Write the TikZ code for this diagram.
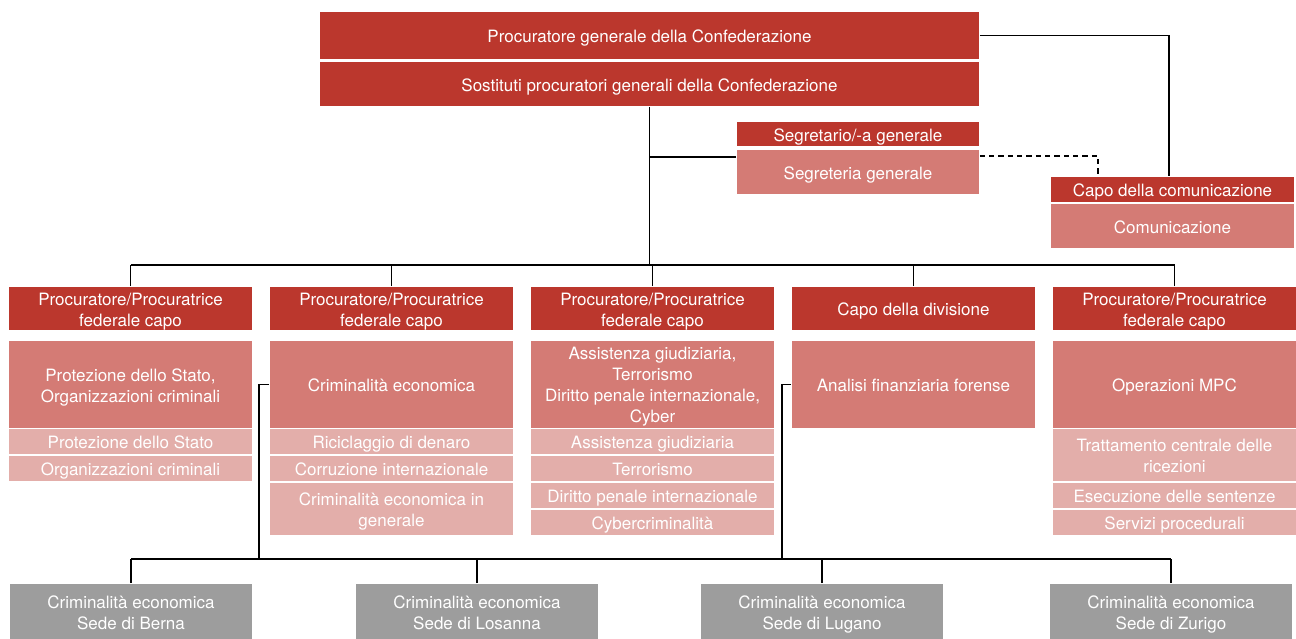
\documentclass[tikz,border=0pt]{standalone}
\usepackage{fontspec}
\setmainfont{TeX Gyre Heros}
\definecolor{rosso}{HTML}{BB372D}
\definecolor{rosa}{HTML}{D47B75}
\definecolor{rosachiaro}{HTML}{E3AEAA}
\definecolor{grigio}{HTML}{9D9D9D}
\tikzset{
  box/.style={inner sep=0pt,align=center,text=white,font=\fontsize{12.75}{15.75}\selectfont,minimum width=182.25pt,
    text height=13.3pt,text depth=2.7pt},
  due/.style={text height=29.3pt},
  capo/.style={box,fill=rosso,minimum height=32.25pt,due},
  main/.style={box,fill=rosa,minimum height=65.25pt},
  sub/.style={box,fill=rosachiaro,minimum height=18.75pt},
  sede/.style={box,fill=grigio,minimum width=181.5pt,minimum height=41.25pt,due}
}
\begin{document}
\begin{tikzpicture}[x=0.75pt,y=-0.75pt,line width=1.2pt]
        \useasboundingbox (0,0) rectangle (1296,639);
        % vertice
        \node[box,fill=rosso,minimum width=494.25pt,minimum height=35.25pt](pg)at(649.5,35.5){Procuratore generale della Confederazione};
        \node[box,fill=rosso,minimum width=494.25pt,minimum height=33pt](spg)at(649.5,84){Sostituti procuratori generali della Confederazione};
        \node[box,fill=rosso,minimum width=181.5pt,minimum height=18pt](sg)at(858,134){Segretario/-a generale};
        \node[box,fill=rosa,minimum width=181.5pt,minimum height=33pt](seg)at(858,172){Segreteria generale};
        \node[box,fill=rosso,minimum height=18.75pt](cc)at(1172.5,189.5){Capo della comunicazione};
        \node[box,fill=rosa,minimum height=33pt](com)at(1172.5,226){Comunicazione};
        % divisioni
        \node[capo](h1)at(130.5,308.5){Procuratore/Procuratrice\\federale capo};
        \node[capo](h2)at(391.5,308.5){Procuratore/Procuratrice\\federale capo};
        \node[capo](h3)at(652.5,308.5){Procuratore/Procuratrice\\federale capo};
        \node[capo,text height=13.3pt](h4)at(913.5,308.5){Capo della divisione};
        \node[capo](h5)at(1174.5,308.5){Procuratore/Procuratrice\\federale capo};
        \node[main,due](m1)at(130.5,384.5){Protezione dello Stato,\\Organizzazioni criminali};
        \node[main](m2)at(391.5,384.5){Criminalità economica};
        \node[main,text height=60pt](m3)at(652.5,384.5){Assistenza giudiziaria,\\Terrorismo\\Diritto penale internazionale,\\Cyber};
        \node[main](m4)at(913.5,384.5){Analisi finanziaria forense};
        \node[main](m5)at(1174.5,384.5){Operazioni MPC};
        \node[sub](s11)at(130.5,441.5){Protezione dello Stato};
        \node[sub](s12)at(130.5,468.5){Organizzazioni criminali};
        \node[sub](s21)at(391.5,441.5){Riciclaggio di denaro};
        \node[sub](s22)at(391.5,468.5){Corruzione internazionale};
        \node[sub,due,minimum height=39pt](s23)at(391.5,509){Criminalità economica in\\generale};
        \node[sub](s31)at(652.5,441.5){Assistenza giudiziaria};
        \node[sub](s32)at(652.5,468.5){Terrorismo};
        \node[sub](s33)at(652.5,495.5){Diritto penale internazionale};
        \node[sub](s34)at(652.5,522.5){Cybercriminalità};
        \node[sub,due,minimum height=39pt](s51)at(1174.5,455){Trattamento centrale delle\\ricezioni};
        \node[sub](s52)at(1174.5,495.5){Esecuzione delle sentenze};
        \node[sub](s53)at(1174.5,522.5){Servizi procedurali};
        % sedi
        \foreach \i/\x/\s in {1/131/Berna,2/477/Losanna,3/822/Lugano,4/1171/Zurigo}
            \node[sede](b\i)at(\x,611.5){Criminalità economica\\Sede di \s};
        % linee
        \coordinate(bus)at(651,265);
        \coordinate(bus2)at(651,559);
        \draw(spg.south)--(spg.south|-bus);
        \draw(h1.north|-bus)--(h5.north|-bus);
        \foreach \i in {1,...,5} \draw(h\i.north)--(h\i.north|-bus);
        \draw([yshift=-6pt]seg.north west)-|(spg.south);
        \draw[dash pattern=on 4pt off 3pt]([yshift=-5.25pt]seg.north east)-|([xshift=36pt]cc.north west);
        \draw(pg.east)-|([xshift=-2.5pt]cc.north);
        \draw(m2.west)--++(-10,0)coordinate(l2)--(l2|-bus2);
        \draw(m4.west)--++(-9,0)coordinate(l4)--(l4|-bus2);
        \draw(b1.north|-bus2)--(b4.north|-bus2);
        \foreach \i in {1,...,4} \draw(b\i.north)--(b\i.north|-bus2);
        %\draw(h4.south)--(m4.north);
    \end{tikzpicture}
\end{document}
